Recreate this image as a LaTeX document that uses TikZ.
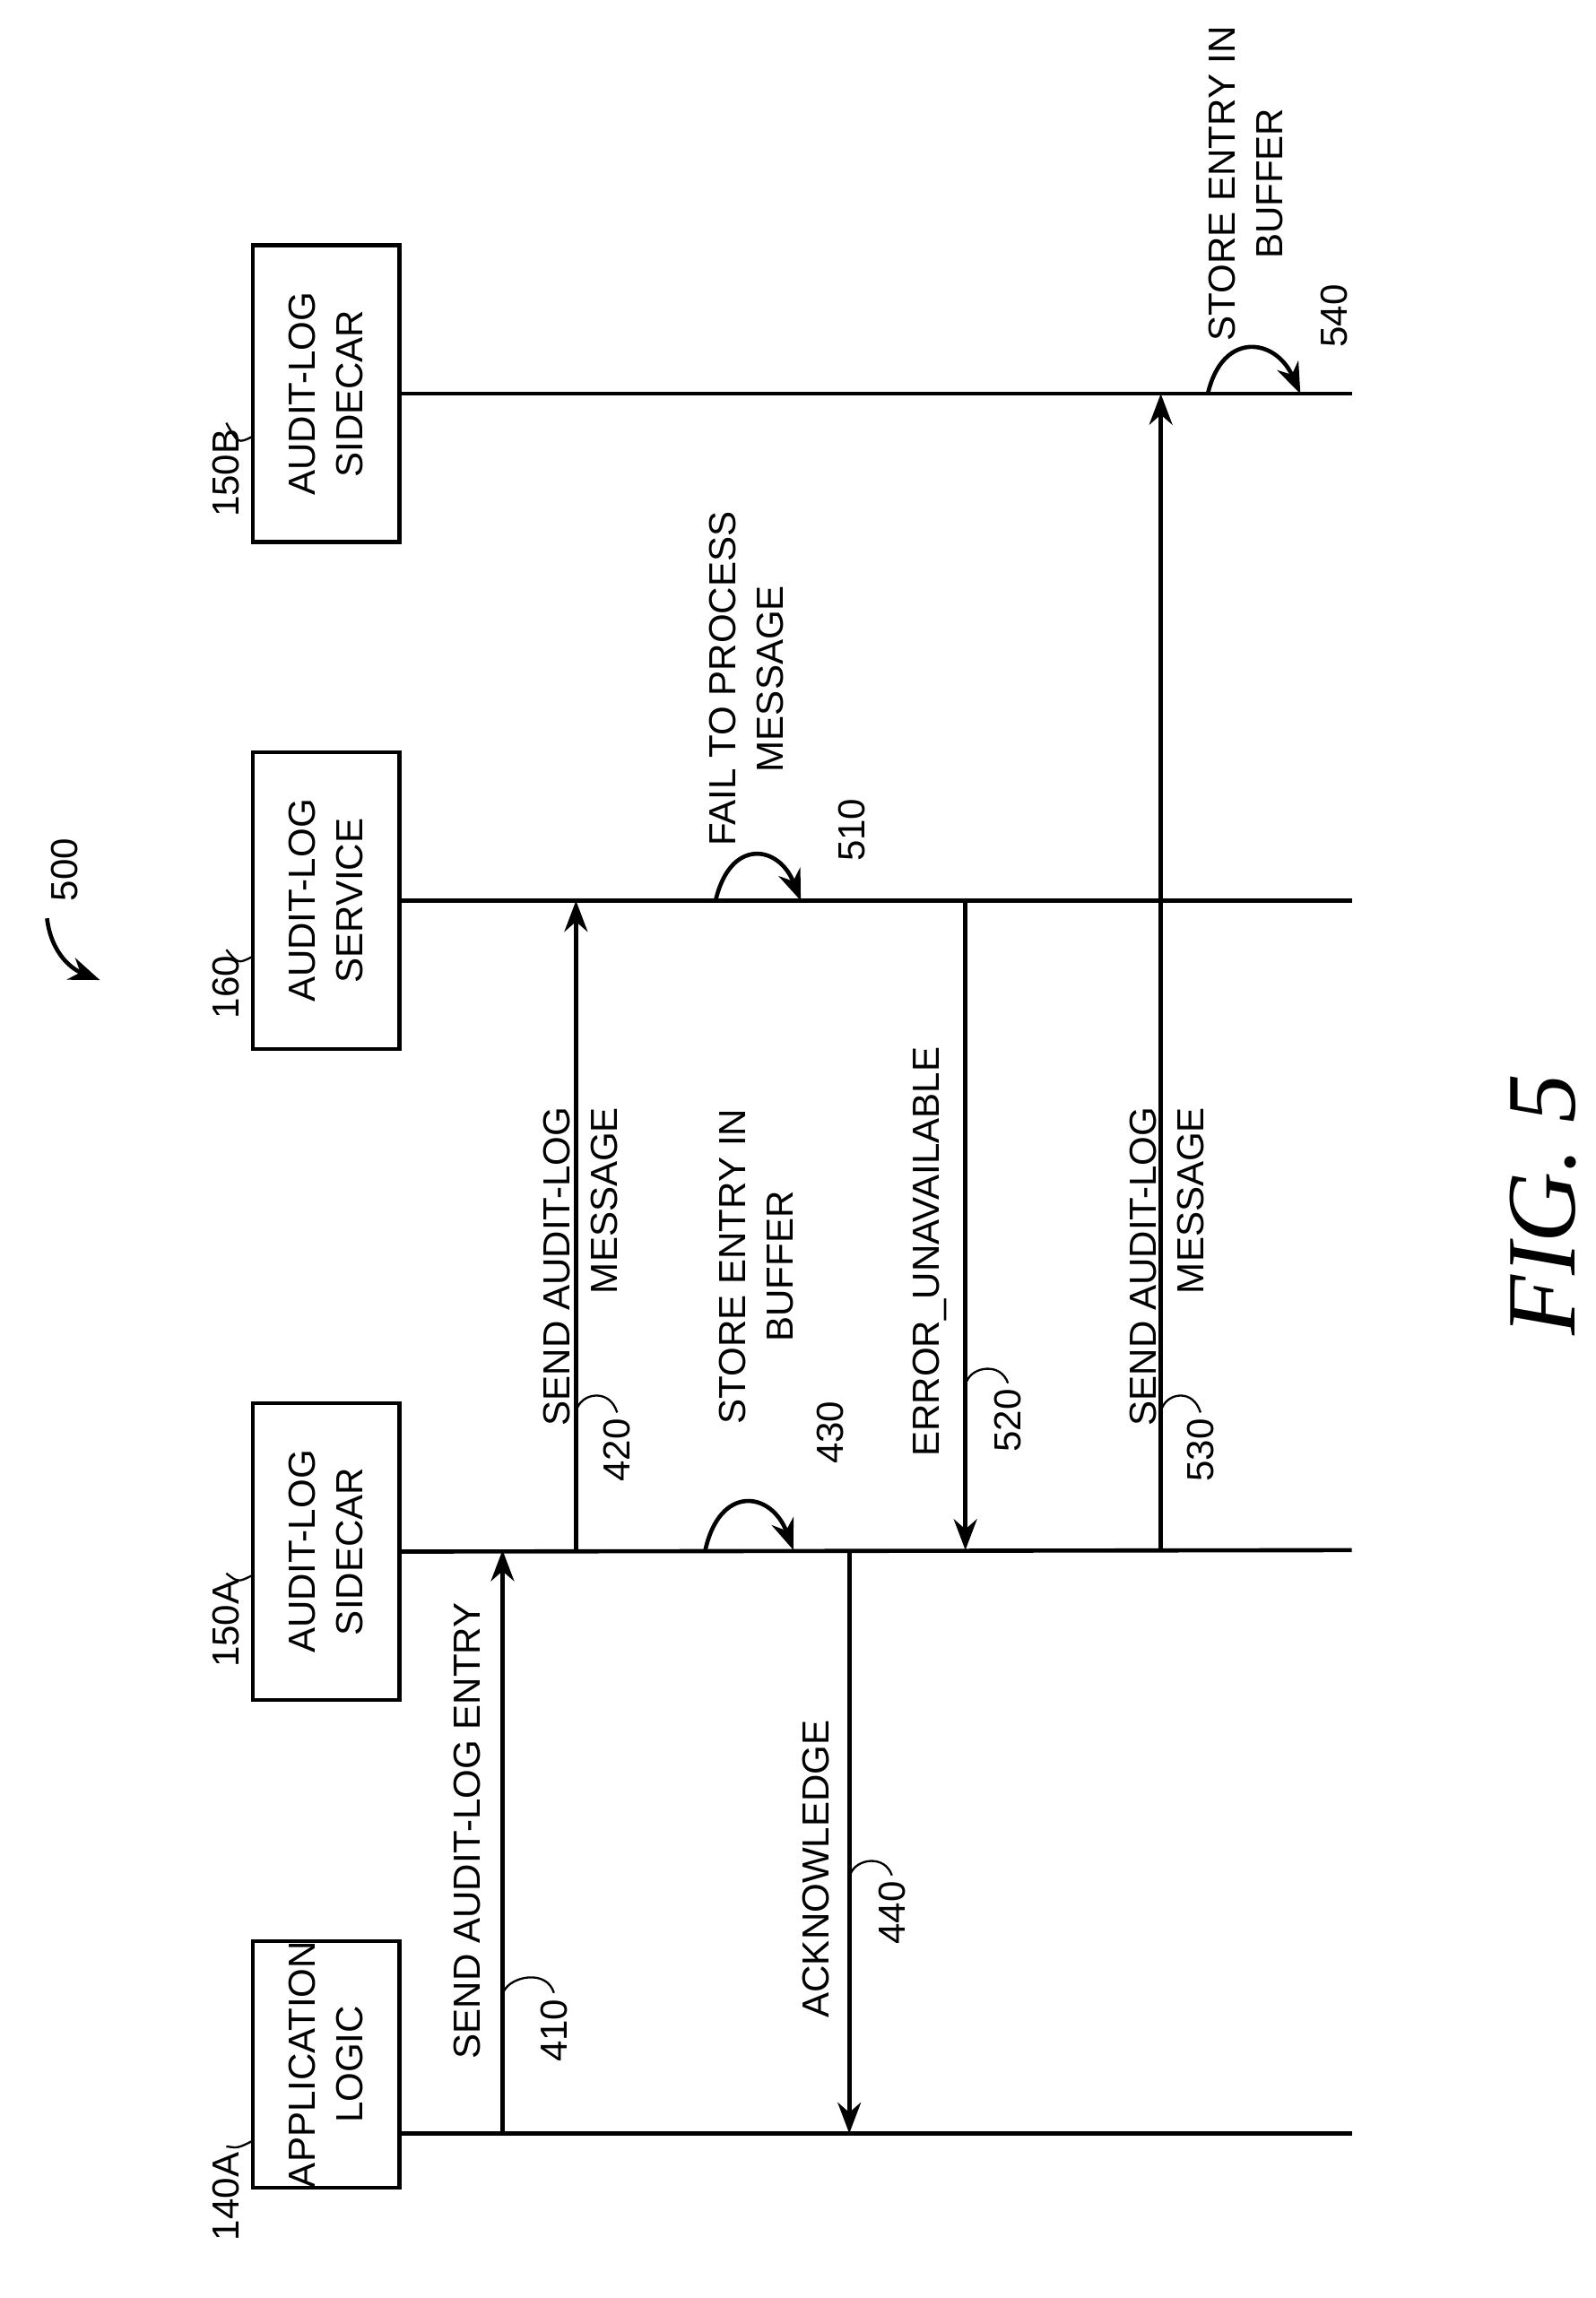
\documentclass[tikz,border=0pt]{standalone}
\usepackage{fontspec}
\setmainfont{Liberation Sans}
\newfontfamily\figfont{Liberation Serif}
\usetikzlibrary{arrows.meta}
\begin{document}
\begin{tikzpicture}[
    x=0.01cm, y=-0.01cm,
    actor/.style={
        rectangle,
        draw,
        thick,
        minimum width=2.02cm,
        minimum height=1cm,
        inner sep=1pt,
        align=center,
        rotate=90,
        font=\fontsize{7.3}{9.2}\selectfont
    },
    msg/.style={
        rotate=90,
        align=center,
        font=\fontsize{7.3}{9.2}\selectfont
    },
    refnum/.style={
        rotate=90,
        inner sep=1pt,
        font=\fontsize{7.3}{9}\selectfont
    },
    arrow/.style={
        -{Stealth[length=6pt,width=4.5pt]},
        thick
    },
    lifeline/.style={thick}
]
\useasboundingbox (0,0) rectangle (1086,1564);

% Akteure
\node[actor, minimum width=1.1cm, inner sep=0pt] (app) at (222,1405) {APPLICATION\\LOGIC};
\node[actor] (sideA) at (222,1056) {AUDIT-LOG\\SIDECAR};
\node[actor] (svc) at (222,613) {AUDIT-LOG\\SERVICE};
\node[actor] (sideB) at (222,268) {AUDIT-LOG\\SIDECAR};

\node[refnum] (napp) at (154,1495) {140A};
\node[refnum] (nsideA) at (154,1105) {150A};
\node[refnum] (nsvc) at (154,672) {160};
\node[refnum] (nsideB) at (154,322) {150B};
\draw (napp.east) .. controls (162,1462) .. (172,1457);
\draw (nsideA.east) .. controls (162,1077) .. (172,1072);
\draw (nsvc.east) .. controls (162,656) .. (172,651);
\draw (nsideB.east) .. controls (162,302) .. (172,297);

% Lebenslinien
\coordinate (appE) at (920,1452);
\coordinate (sideAE) at (920,1055);
\coordinate (svcE) at (920,613);
\coordinate (sideBE) at (920,268);
\draw[lifeline] (app.south) ++(0,47) -- (appE);
\draw[lifeline] (sideA.south) -- (sideAE);
\draw[lifeline] (svc.south) -- (svcE);
\draw[lifeline] (sideB.south) -- (sideBE);

% Nachrichten
\coordinate (a1) at (342,1452);
\coordinate (a2) at (342,1055);
\draw[arrow] (a1) -- (a2);
\node[msg] (m410) at (318,1246) {SEND AUDIT-LOG ENTRY};
\node[refnum] (n410) at (377,1382) {410};
\draw (n410.east) .. controls (372,1340) and (348,1345) .. (343,1355);

\coordinate (b1) at (392,1055);
\coordinate (b2) at (392,613);
\draw[arrow] (b1) -- (b2);
\node[msg, align=right] (m420) at (395,862) {SEND AUDIT-LOG\\MESSAGE};
\node[refnum] (n420) at (420,987) {420};
\draw (n420.east) .. controls (415,945) and (397,948) .. (393,958);

\coordinate (c1) at (480,1055);
\coordinate (c2) at (540,1055);
\draw[arrow] (c1) .. controls (490,1010) and (525,1015) .. (c2);
\node[msg] (m430) at (515,862) {STORE ENTRY IN\\BUFFER};
\node[refnum] (n430) at (565,975) {430};

\coordinate (d1) at (578,1055);
\coordinate (d2) at (578,1452);
\draw[arrow] (d1) -- (d2);
\node[msg] (m440) at (555,1272) {ACKNOWLEDGE};
\node[refnum] (n440) at (607,1302) {440};
\draw (n440.east) .. controls (602,1262) and (583,1265) .. (579,1275);

\coordinate (e1) at (487,613);
\coordinate (e2) at (545,613);
\draw[arrow] (e1) .. controls (497,570) and (530,575) .. (e2);
\node[msg] (m510) at (508,462) {FAIL TO PROCESS\\MESSAGE};
\node[refnum] (n510) at (580,565) {510};

\coordinate (f1) at (657,613);
\coordinate (f2) at (657,1055);
\draw[arrow] (f1) -- (f2);
\node[msg] (m520) at (633,852) {ERROR\_UNAVAILABLE};
\node[refnum] (n520) at (686,967) {520};
\draw (n520.east) .. controls (681,927) and (662,930) .. (658,940);

\coordinate (g1) at (790,1055);
\coordinate (g2) at (790,268);
\draw[arrow] (g1) -- (g2);
\node[msg, align=right] (m530) at (794,862) {SEND AUDIT-LOG\\MESSAGE};
\node[refnum] (n530) at (817,987) {530};
\draw (n530.east) .. controls (812,945) and (795,948) .. (791,958);

\coordinate (h1) at (822,268);
\coordinate (h2) at (885,268);
\draw[arrow] (h1) .. controls (832,225) and (868,230) .. (h2);
\node[msg] (m540) at (848,125) {STORE ENTRY IN\\BUFFER};
\node[refnum] (n540) at (908,215) {540};

% Figurnummer
\node[refnum] (n500) at (44,592) {500};
\coordinate (p500) at (68,667);
\draw[arrow] (32,625) .. controls (35,650) and (50,660) .. (p500);
\node[rotate=90, font=\figfont\itshape\fontsize{19}{22}\selectfont] (fig) at (1050,820) {FIG. 5};
\end{tikzpicture}
\end{document}
